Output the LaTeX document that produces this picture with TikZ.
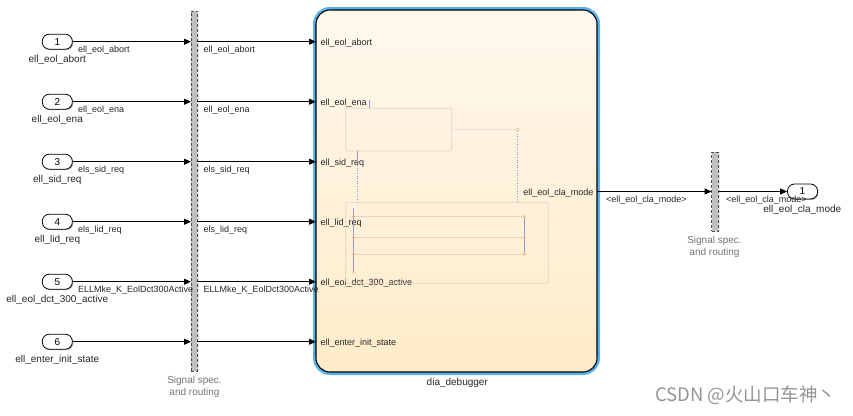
\documentclass[tikz,border=0pt]{standalone}
\usepackage{fontspec}
\setmainfont{Liberation Sans}
\newfontfamily\cjk{Noto Sans CJK SC}
\usetikzlibrary{arrows.meta, positioning, shadows}

\definecolor{chartblue}{RGB}{88,178,240}
\definecolor{creamtop}{RGB}{255,248,237}
\definecolor{creambot}{RGB}{255,235,200}
\definecolor{faintline}{RGB}{226,212,196}
\definecolor{wire}{RGB}{150,150,200}
\definecolor{knot}{RGB}{240,196,150}

\begin{document}
\begin{tikzpicture}[x=1pt, y=-1pt,
  sig/.style={-{Triangle[length=7pt,width=6pt]}, line width=0.9pt},
  port/.style={draw, line width=0.8pt, fill=white, rounded corners=7pt,
    minimum width=30pt, minimum height=15pt, inner sep=0pt,
    font=\fontsize{10}{10}\selectfont,
    drop shadow={shadow xshift=0.9pt, shadow yshift=-0.9pt, fill=black!65}},
  bus/.style={draw=black!70, densely dashed, fill=gray!50, minimum width=6.3pt,
    inner sep=0pt, outer sep=0pt,
    drop shadow={shadow xshift=2pt, shadow yshift=0pt, fill=black!18}},
  chartbox/.style={draw=black, line width=1.1pt, rounded corners=14pt,
    top color=creamtop, bottom color=creambot, minimum width=281pt,
    minimum height=362pt, inner sep=0pt, outer sep=0pt,
    preaction={draw=chartblue, line width=6pt}},
  siglabel/.style={font=\fontsize{9}{9}\selectfont, text=black!85, inner sep=0pt, anchor=base west},
  blkname/.style={font=\fontsize{10}{10}\selectfont, text=black!85, inner sep=0pt, anchor=base},
  buscap/.style={font=\fontsize{10}{12}\selectfont, text=black!55, align=center, inner sep=0pt, anchor=north}]
  \useasboundingbox (0,0) rectangle (853,415);

  \node[bus, minimum height=360pt] (bus1) at (194.2,191) {};
  \node[bus, minimum height=79.5pt] (bus2) at (714.7,191.5) {};
  \node[chartbox] (chart) at (456.5,191) {};

  \node[port] (in1) at (57.3,41.7) {1};
  \node[port] (in2) at (57.3,101.7) {2};
  \node[port] (in3) at (57.3,161.7) {3};
  \node[port] (in4) at (57.3,221.7) {4};
  \node[port] (in5) at (57.3,281.7) {5};
  \node[port] (in6) at (57.3,341.7) {6};
  \node[port] (out1) at (802.5,191.5) {1};

  \node[blkname] (in1name) at (57.3,62) {ell\_eol\_abort};
  \node[blkname] (in2name) at (57.3,122) {ell\_eol\_ena};
  \node[blkname] (in3name) at (57.3,182) {ell\_sid\_req};
  \node[blkname] (in4name) at (57.3,242) {ell\_lid\_req};
  \node[blkname] (in5name) at (57.3,302) {ell\_eol\_dct\_300\_active};
  \node[blkname] (in6name) at (57.3,362) {ell\_enter\_init\_state};
  \node[blkname] (out1name) at (802.3,212.5) {ell\_eol\_cla\_mode};
  \node[blkname] (chartname) at (457.3,385) {dia\_debugger};
  \node[buscap] (bus1cap) at (194.5,376.5) {Signal spec.\\and routing};
  \node[buscap] (bus2cap) at (714.5,235.8) {Signal spec.\\and routing};

  % inports to the first bus and on to the chart
  \draw[sig] (in1) -- (in1 -| bus1.west);
  \draw[sig] (in2) -- (in2 -| bus1.west);
  \draw[sig] (in3) -- (in3 -| bus1.west);
  \draw[sig] (in4) -- (in4 -| bus1.west);
  \draw[sig] (in5) -- (in5 -| bus1.west);
  \draw[sig] (in6) -- (in6 -| bus1.west);
  \draw[sig] (in1 -| bus1.east) -- (in1 -| chart.west);
  \draw[sig] (in2 -| bus1.east) -- (in2 -| chart.west);
  \draw[sig] (in3 -| bus1.east) -- (in3 -| chart.west);
  \draw[sig] (in4 -| bus1.east) -- (in4 -| chart.west);
  \draw[sig] (in5 -| bus1.east) -- (in5 -| chart.west);
  \draw[sig] (in6 -| bus1.east) -- (in6 -| chart.west);
  \draw[sig] (bus2 -| chart.east) -- (bus2.west);
  \draw[sig] (bus2.east) -- (out1.west);

  \node[siglabel] at (78,52.3) {ell\_eol\_abort};
  \node[siglabel] at (78,112.3) {ell\_eol\_ena};
  \node[siglabel] at (78,172.3) {els\_sid\_req};
  \node[siglabel] at (78,232.3) {els\_lid\_req};
  \node[siglabel] at (78,292.3) {ELLMke\_K\_EolDct300Active};
  \node[siglabel] at (203.3,52.3) {ell\_eol\_abort};
  \node[siglabel] at (203.3,112.3) {ell\_eol\_ena};
  \node[siglabel] at (203.3,172.3) {els\_sid\_req};
  \node[siglabel] at (203.3,232.3) {els\_lid\_req};
  \node[siglabel] at (203.3,292.3) {ELLMke\_K\_EolDct300Active};
  \node[siglabel] at (606,202.5) {<ell\_eol\_cla\_mode>};
  \node[siglabel] at (726,202.5) {<ell\_eol\_cla\_mode>};

  \node[siglabel] at (320.5,45.2) {ell\_eol\_abort};
  \node[siglabel] at (320.5,105.2) {ell\_eol\_ena};
  \node[siglabel] at (320.5,165.2) {ell\_sid\_req};
  \node[siglabel] at (320.5,225.2) {ell\_lid\_req};
  \node[siglabel] at (320.5,285.2) {ell\_eol\_dct\_300\_active};
  \node[siglabel] at (320.5,345.2) {ell\_enter\_init\_state};
  \node[siglabel, anchor=base east] at (593.5,195.2) {ell\_eol\_cla\_mode};

  % faint chart contents
  \draw[faintline, line width=0.7pt, rounded corners=2pt] (345.7,108.3) rectangle (451.7,151);
  \draw[faintline, line width=0.7pt, rounded corners=2pt] (345.7,202.3) rectangle (548.3,283.3);
  \draw[faintline!70, line width=0.8pt] (451.7,129.3) -- (516.2,129.3);
  \draw[faintline, line width=0.6pt] (354,216.7) -- (524.3,216.7) (354,237.7) -- (524.3,237.7)
    (354,254.3) -- (524.3,254.3);
  \draw[wire, line width=0.6pt] (369.7,100) -- (369.7,108.3) (357.3,151) -- (357.3,160)
    (353.5,208.3) -- (353.5,272.3) (524.3,216.7) -- (524.3,254.3);
  \draw[wire, line width=0.6pt, dotted] (357.3,160) -- (357.3,202.3) (517.7,131) -- (517.7,202.3);
  \draw[knot, line width=0.6pt] (517.7,129.3) circle (1.5pt) (353.5,216.7) circle (1.5pt)
    (353.5,237.7) circle (1.5pt) (353.5,254.3) circle (1.5pt) (353.5,272.3) circle (1.5pt)
    (524.3,216.7) circle (1.5pt) (524.3,237.7) circle (1.5pt) (524.3,254.3) circle (1.5pt);

  \node[font=\cjk\fontsize{18.5}{18.5}\selectfont, text=black!42, anchor=base west, inner sep=0pt]
    (mark) at (655,401.5) {CSDN @火山口车神丶};
\end{tikzpicture}
\end{document}
